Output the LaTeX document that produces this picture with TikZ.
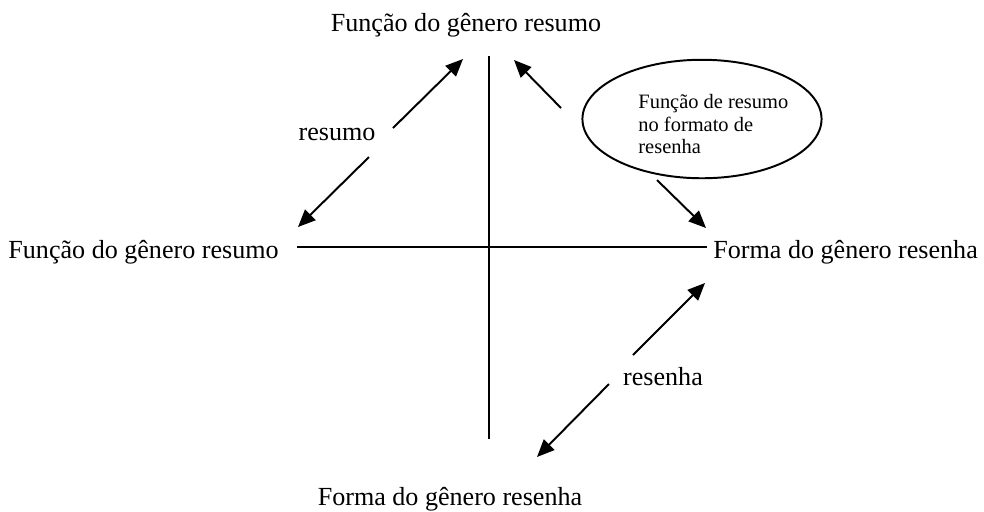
\documentclass[tikz,border=0pt]{standalone}
\usepackage{fontspec}
\setmainfont{Liberation Serif}
\usetikzlibrary{shapes.geometric,arrows.meta}
\tikzset{label style/.style={
		text=black,
		font=\fontsize{12}{14}\selectfont,
		inner sep=0pt,
		anchor=base,
	},
	bubble style/.style={
		draw=black,
		line width=0.9pt,
		fill=white,
		ellipse,
		minimum width=110pt,
		minimum height=54.5pt,
		inner sep=0pt,
	},
	bubble text/.style={
		text=black,
		align=left,
		font=\fontsize{9.4}{10.4}\selectfont,
		inner sep=0pt,
	},
	axis style/.style={
		draw=black,
		line width=0.9pt,
	},
	arrow style/.style={
		draw=black,
		line width=0.9pt,
		-{Triangle[length=8pt,width=6.8pt]},
	}
}

\begin{document}
\begin{tikzpicture}[x=0.46pt,y=-0.46pt]
	\useasboundingbox (0,0) rectangle (984,511);
	
	% axes
	\coordinate (W) at (297,247);
	\coordinate (E) at (707,247);
	\coordinate (N) at (489,56);
	\coordinate (S) at (489,439);
	\draw[axis style] (W) -- (E);
	\draw[axis style] (N) -- (S);
	
	% poles
	\node[label style] (Top) at (466,31) {Função do gênero resumo};
	\node[label style, anchor=base west] (Left) at (8,258) {Função do gênero resumo};
	\node[label style, anchor=base west] (Right) at (713,258) {Forma do gênero resenha};
	\node[label style] (Bottom) at (450,505) {Forma do gênero resenha};
	
	% resumo
	\node[label style] (Resumo) at (337,140) {resumo};
	\coordinate (ResumoA) at (393,128);
	\coordinate (ResumoB) at (369,157);
	\coordinate (TopTip) at (463,59);
	\coordinate (LeftTip) at (298,227);
	\draw[arrow style] (ResumoA) -- (TopTip);
	\draw[arrow style] (ResumoB) -- (LeftTip);
	
	% resenha
	\node[label style] (Resenha) at (663,385) {resenha};
	\coordinate (ResenhaA) at (633,355);
	\coordinate (ResenhaB) at (609,384);
	\coordinate (RightTip) at (705,283);
	\coordinate (BottomTip) at (537,457);
	\draw[arrow style] (ResenhaA) -- (RightTip);
	\draw[arrow style] (ResenhaB) -- (BottomTip);
	
	% bubble
	\node[bubble style] (Summary) at (702,119) {};
	\node[bubble text, anchor=north west] (SummaryText) at (638,94) {Função de resumo\\no formato de\\resenha};
	\coordinate (SummaryA) at (561,108);
	\coordinate (SummaryB) at (657,180);
	\coordinate (NorthTip) at (514,60);
	\coordinate (EastTip) at (706,228);
	\draw[arrow style] (SummaryA) -- (NorthTip);
	\draw[arrow style] (SummaryB) -- (EastTip);
\end{tikzpicture}
\end{document}
